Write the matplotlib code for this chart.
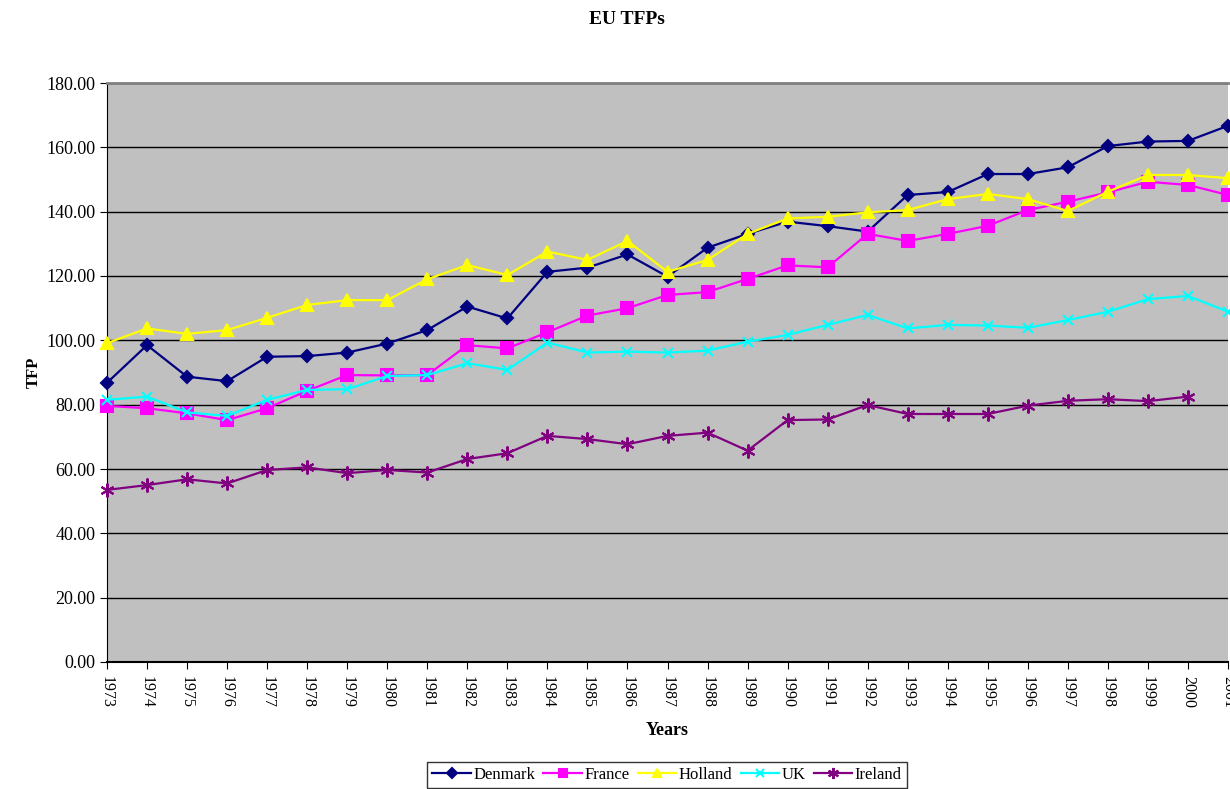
import matplotlib.pyplot as plt
import numpy as np

years = [str(y) for y in range(1973, 2002)]

denmark = [86.8, 98.5, 88.7, 87.3, 94.9, 95.1, 96.2, 99.0, 103.2, 110.5,
           106.8, 121.3, 122.6, 126.7, 119.8, 128.8, 133.1, 136.9, 135.5, 133.8,
           145.2, 146.1, 151.7, 151.7, 153.8, 160.4, 161.8, 162.0, 166.7]
france = [79.6, 78.9, 77.3, 75.2, 78.9, 84.3, 89.2, 89.1, 89.2, 98.5,
          97.5, 102.5, 107.7, 110.0, 114.1, 115.0, 119.1, 123.3, 122.7, 133.1,
          130.9, 133.1, 135.6, 140.5, 143.1, 146.0, 149.3, 148.3, 145.2]
holland = [99.1, 103.7, 102.0, 103.2, 107.0, 111.0, 112.5, 112.5, 119.0, 123.4,
           120.3, 127.6, 125.0, 130.9, 121.3, 125.0, 133.1, 137.9, 138.4, 139.8,
           140.5, 143.9, 145.5, 143.9, 140.2, 146.2, 151.4, 151.4, 150.4]
uk = [81.5, 82.5, 77.6, 76.5, 81.5, 84.6, 84.8, 88.9, 89.2, 92.9,
      90.8, 99.3, 96.2, 96.5, 96.2, 96.8, 99.6, 101.7, 104.8, 107.9,
      103.7, 104.8, 104.6, 103.9, 106.3, 108.9, 112.8, 113.8, 108.9]
ireland = [53.5, 55.0, 56.8, 55.5, 59.7, 60.5, 58.7, 59.7, 58.9, 63.1,
           64.9, 70.3, 69.3, 67.7, 70.3, 71.3, 65.7, 75.2, 75.4, 79.9,
           77.1, 77.1, 77.1, 79.7, 81.2, 81.7, 81.1, 82.5, np.nan]

yticks = np.arange(0, 181, 20)

plt.rcParams['font.family'] = ['Liberation Serif', 'DejaVu Serif']

fig = plt.figure(figsize=(12.3, 7.89), dpi=100)
ax = fig.add_axes([107 / 1230, 127 / 789, 1121 / 1230, 579 / 789])
ax.set_facecolor('#C0C0C0')

x = np.arange(len(years))
series = [
    ("Denmark", denmark, '#000080', 'D', 6),
    ("France", france, '#FF00FF', 's', 8),
    ("Holland", holland, '#FFFF00', '^', 8),
    ("UK", uk, '#00FFFF', 'x', 7),
    ("Ireland", ireland, '#800080', (6, 2, 0), 10),
]
for name, vals, col, mk, ms in series:
    ax.plot(x, vals, color=col, marker=mk, markersize=ms, linewidth=1.6,
            markeredgecolor=col, markerfacecolor=col, markeredgewidth=1.5,
            label=name, clip_on=False, zorder=3)

ax.set_xlim(0, len(years) - 1)
ax.set_ylim(0, 180)
ax.set_yticks(yticks)
ax.set_yticklabels([f"{t:.2f}" for t in yticks], fontsize=13)
ax.set_xticks(x)
ax.set_xticklabels(years, rotation=-90, fontsize=11.5)

ax.grid(axis='y', color='black', linewidth=1)
ax.set_axisbelow(True)

ax.spines['top'].set_color('#808080')
ax.spines['top'].set_linewidth(2)
ax.spines['right'].set_visible(False)
ax.spines['left'].set_color('black')
ax.spines['bottom'].set_color('black')
ax.spines['bottom'].set_linewidth(1.5)
ax.tick_params(axis='both', direction='out', length=5, color='black')
ax.tick_params(axis='x', pad=5)

ax.set_ylabel("TFP", fontsize=12, fontweight='bold', labelpad=3)
ax.set_xlabel("Years", fontsize=13, fontweight='bold', labelpad=10)
fig.text(627 / 1230, 1 - 19 / 789, "EU TFPs", fontsize=14, fontweight='bold',
         ha='center', va='center')

leg = fig.legend(loc='center', bbox_to_anchor=(667 / 1230, 1 - 775 / 789),
                 ncol=5, fontsize=12, frameon=True, fancybox=False,
                 edgecolor='black', handlelength=2.3, handletextpad=0.15,
                 columnspacing=0.5, borderpad=0.3, markerscale=0.8)
leg.get_frame().set_linewidth(1)

fig.savefig("out.png", dpi=100)
